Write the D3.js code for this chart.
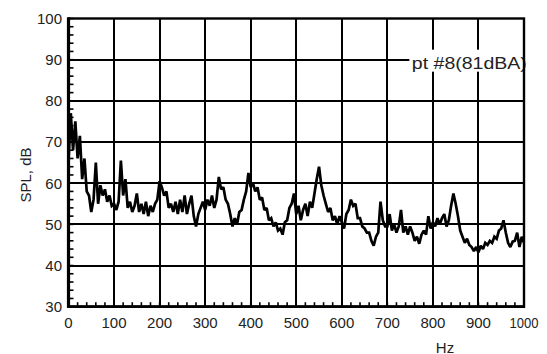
<!DOCTYPE html>
<html>
<head>
<meta charset="utf-8">
<script src="https://cdn.jsdelivr.net/npm/d3@7/dist/d3.min.js"></script>
<style>
  html, body { margin: 0; padding: 0; background: #fff; }
  svg { display: block; }
  text { font-family: "Liberation Sans", Arial, sans-serif; fill: #222; }
</style>
</head>
<body>
<svg id="chart" width="547" height="354"></svg>
<script>
// ---- data ----
const freqStart = 0;          // Hz
const freqStep = 5;           // Hz between spectrum samples
const splValues = [
  65, 77, 68, 75, 66, 71.5, 61, 66, 58, 57,
  53, 56, 65, 55, 59.5, 57, 58.5, 55.5, 57, 54.5,
  55, 53.5, 55.5, 65.5, 57, 61, 54, 55.5, 53, 54.5,
  57.5, 53, 55, 52.5, 55.5, 52, 54.5, 53, 55, 56,
  60.5, 59, 57, 58, 54, 55, 53, 55.5, 52.5, 56,
  53, 57, 52.5, 55, 57, 52, 49.5, 52.5, 54, 55.5,
  53.5, 56, 54.5, 57, 54, 56, 61.5, 58.5, 59, 56,
  55, 52.5, 49.5, 51.5, 50, 53, 53.5, 56, 58, 62.5,
  59, 60, 58, 59, 56, 56.5, 53.5, 54, 51, 51.5,
  49.5, 50.5, 48.5, 49, 47.5, 50.5, 51, 54, 55, 57.5,
  52.5, 54.5, 51, 53.5, 55, 52, 55.5, 54, 57.5, 61,
  64, 59.5, 57, 55, 53, 54, 51, 52, 50, 52,
  50.5, 49, 52.5, 53.5, 56, 54.5, 55, 51.5, 51.5, 49.5,
  49, 48, 48, 46, 44.8, 47, 48, 55.5, 51, 49.5,
  49.5, 52.5, 48.5, 50, 48, 49.5, 53.5, 48, 49.5, 47.5,
  49.5, 48, 46, 47, 45.3, 47.5, 48.5, 47.5, 52, 49,
  50.5, 49.5, 51.5, 50, 51.5, 52.5, 49.5, 51, 54.5, 57.5,
  55, 52, 48.5, 47, 45.5, 46.5, 45, 44.5, 43.5, 44.5,
  43.2, 44.8, 44, 45.5, 45, 46, 45.5, 47, 46.5, 48.5,
  49, 51, 48, 45.5, 44.5, 45.8, 46, 48, 44.5, 47,
  45.5
];
const xTickValues = [0, 100, 200, 300, 400, 500, 600, 700, 800, 900, 1000];
const yTickValues = [30, 40, 50, 60, 70, 80, 90, 100];
const xMinorStep = 20;   // Hz
const yMinorStep = 2;    // dB
const xLabel = "Hz";
const yLabel = "SPL, dB";
const annotation = "pt #8(81dBA)";
const annotationPos = [880, 90]; // Hz, dB (text centre)

// ---- drawing ----
const svg = d3.select("#chart");
const x = d3.scaleLinear().domain([0, 1000]).range([68.5, 524]);
const y = d3.scaleLinear().domain([30, 100]).range([306.7, 18.5]);
const L = x(0), R = x(1000), T = y(100), B = y(30);

// grid lines
const g = svg.append("g");
g.selectAll(".vg").data(xTickValues.slice(1, -1)).join("line")
  .attr("x1", d => Math.round(x(d))).attr("x2", d => Math.round(x(d)))
  .attr("y1", T).attr("y2", B)
  .attr("stroke", "#000").attr("stroke-width", 2);
g.selectAll(".hg").data(yTickValues.slice(1, -1)).join("line")
  .attr("y1", d => Math.round(y(d))).attr("y2", d => Math.round(y(d)))
  .attr("x1", L).attr("x2", R)
  .attr("stroke", "#000").attr("stroke-width", 2);

// minor ticks
const xMinor = d3.range(0, 1000 + 1e-9, xMinorStep);
const yMinor = d3.range(30, 100 + 1e-9, yMinorStep);
g.selectAll(".xm").data(xMinor).join("line")
  .attr("x1", d => x(d)).attr("x2", d => x(d))
  .attr("y1", B).attr("y2", B - 4.5)
  .attr("stroke", "#000").attr("stroke-width", 1.6);
g.selectAll(".ym").data(yMinor).join("line")
  .attr("y1", d => y(d)).attr("y2", d => y(d))
  .attr("x1", L).attr("x2", L + 5)
  .attr("stroke", "#000").attr("stroke-width", 1.6);

// annotation box
const ax = x(annotationPos[0]), ay = y(annotationPos[1]);
svg.append("rect").attr("x", ax - 60).attr("y", ay - 10).attr("width", 120).attr("height", 22)
  .attr("fill", "#fff");
svg.append("text").attr("x", ax).attr("y", ay + 9.5)
  .attr("text-anchor", "middle").attr("font-size", 16.5)
  .attr("textLength", 115).attr("lengthAdjust", "spacingAndGlyphs")
  .text(annotation);

// data line
svg.append("clipPath").attr("id", "clip").append("rect")
  .attr("x", L).attr("y", T).attr("width", R - L).attr("height", B - T);
const pts = splValues.map((v, i) => [freqStart + i * freqStep, v]);
svg.append("path").datum(pts)
  .attr("clip-path", "url(#clip)")
  .attr("fill", "none").attr("stroke", "#000").attr("stroke-width", 2.7)
  .attr("stroke-linejoin", "miter").attr("stroke-miterlimit", 2)
  .attr("d", d3.line().x(d => x(d[0])).y(d => y(d[1])));

// frame
svg.append("rect").attr("x", L).attr("y", T).attr("width", R - L).attr("height", B - T)
  .attr("fill", "none").attr("stroke", "#000").attr("stroke-width", 2.4);
svg.append("line").attr("x1", L).attr("x2", L).attr("y1", T - 1).attr("y2", B + 1)
  .attr("stroke", "#000").attr("stroke-width", 3.2);
svg.append("line").attr("x1", L - 1).attr("x2", R + 1).attr("y1", B).attr("y2", B)
  .attr("stroke", "#000").attr("stroke-width", 2.8);

// tick labels
svg.selectAll(".xl").data(xTickValues).join("text")
  .attr("x", d => x(d)).attr("y", 327.5)
  .attr("text-anchor", "middle").attr("font-size", 15)
  .each(function (d) {
    const s = d3.select(this).text(d);
    if (String(d).length > 3) s.attr("textLength", 29).attr("lengthAdjust", "spacingAndGlyphs");
  });
svg.selectAll(".yl").data(yTickValues).join("text")
  .attr("x", 62).attr("y", d => y(d) + 5.4)
  .attr("text-anchor", "end").attr("font-size", 15)
  .text(d => d);

// axis titles
svg.append("text").attr("x", 445).attr("y", 352.5)
  .attr("text-anchor", "middle").attr("font-size", 15)
  .text(xLabel);
svg.append("text").attr("transform", "translate(31,175) rotate(-90)")
  .attr("text-anchor", "middle").attr("font-size", 15)
  .text(yLabel);
</script>
</body>
</html>
